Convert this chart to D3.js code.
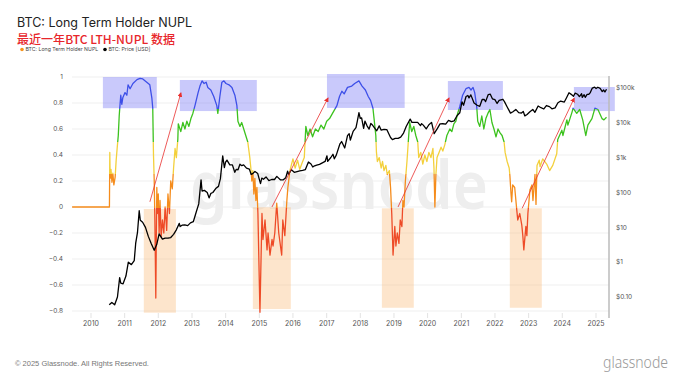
<!DOCTYPE html>
<html>
<head>
<meta charset="utf-8">
<script src="https://cdn.jsdelivr.net/npm/d3@7"></script>
<style>
  html, body { margin: 0; padding: 0; background: #fff; }
  svg { display: block; font-family: Inter, "Noto Sans", sans-serif; }
</style>
</head>
<body>
<div id="chart"></div>
<script>
// LTH-NUPL
const nuplSeries = [
  ["2009-06-10", 0], ["2010-07-20", 0], ["2010-07-24", 0.42], ["2010-07-28", 0.22], ["2010-08-06", 0.29],
  ["2010-08-16", 0.19], ["2010-08-26", 0.26], ["2010-09-06", 0.17], ["2010-09-20", 0.23], ["2010-10-01", 0.36],
  ["2010-10-14", 0.47], ["2010-10-24", 0.55], ["2010-11-03", 0.7], ["2010-11-10", 0.77], ["2010-11-20", 0.86],
  ["2010-12-01", 0.79], ["2010-12-12", 0.84], ["2011-01-05", 0.88], ["2011-01-25", 0.86], ["2011-02-07", 0.94],
  ["2011-03-01", 0.91], ["2011-04-01", 0.95], ["2011-05-15", 0.98], ["2011-06-17", 0.99], ["2011-07-17", 0.985],
  ["2011-08-29", 0.96], ["2011-10-01", 0.94], ["2011-10-23", 0.84], ["2011-11-02", 0.76], ["2011-11-10", 0.4],
  ["2011-11-18", 0.2], ["2011-11-25", -0.1], ["2011-12-05", -0.7], ["2011-12-10", -0.3], ["2011-12-16", 0.15],
  ["2011-12-22", -0.05], ["2012-01-01", 0.1], ["2012-01-10", -0.2], ["2012-01-20", 0.05], ["2012-02-01", -0.23],
  ["2012-02-15", -0.1], ["2012-03-01", -0.2], ["2012-03-15", 0.0], ["2012-04-01", -0.18], ["2012-04-15", 0.1],
  ["2012-05-01", -0.05], ["2012-05-15", 0.2], ["2012-06-01", 0.14], ["2012-06-15", 0.3], ["2012-07-01", 0.45],
  ["2012-07-15", 0.38], ["2012-07-31", 0.52], ["2012-08-05", 0.64], ["2012-09-01", 0.58], ["2012-09-24", 0.65],
  ["2012-10-16", 0.6], ["2012-11-06", 0.66], ["2012-11-28", 0.62], ["2012-12-20", 0.68], ["2013-01-10", 0.72],
  ["2013-02-02", 0.78], ["2013-03-08", 0.88], ["2013-03-28", 0.93], ["2013-04-20", 0.97], ["2013-05-12", 0.95],
  ["2013-06-03", 0.96], ["2013-06-21", 0.92], ["2013-07-24", 0.9], ["2013-08-25", 0.85], ["2013-09-27", 0.78],
  ["2013-10-08", 0.72], ["2013-10-30", 0.85], ["2013-11-21", 0.96], ["2013-12-13", 0.97], ["2014-01-04", 0.95],
  ["2014-02-06", 0.94], ["2014-03-10", 0.92], ["2014-04-11", 0.86], ["2014-05-03", 0.78], ["2014-05-14", 0.66],
  ["2014-06-05", 0.62], ["2014-06-24", 0.65], ["2014-07-16", 0.6], ["2014-08-07", 0.55], ["2014-08-29", 0.5],
  ["2014-09-20", 0.38], ["2014-10-01", 0.3], ["2014-10-12", 0.2], ["2014-10-23", 0.28], ["2014-11-03", 0.1],
  ["2014-11-14", 0.22], ["2014-11-25", 0.05], ["2014-12-06", 0.15], ["2014-12-17", -0.05], ["2015-01-08", -0.81],
  ["2015-01-30", -0.05], ["2015-02-10", -0.25], ["2015-03-04", -0.1], ["2015-03-26", -0.33], ["2015-04-06", -0.2],
  ["2015-04-27", -0.37], ["2015-05-19", -0.25], ["2015-05-30", -0.3], ["2015-06-18", -0.2], ["2015-07-09", 0.03],
  ["2015-07-31", -0.2], ["2015-09-01", -0.37], ["2015-09-13", -0.1], ["2015-10-05", -0.22], ["2015-10-27", 0.05],
  ["2015-11-07", 0.15], ["2015-11-29", 0.28], ["2016-01-01", 0.37], ["2016-01-25", 0.3], ["2016-02-20", 0.36],
  ["2016-03-15", 0.29], ["2016-04-10", 0.34], ["2016-05-03", 0.38], ["2016-05-20", 0.62], ["2016-06-10", 0.55],
  ["2016-07-05", 0.6], ["2016-08-01", 0.54], ["2016-09-01", 0.6], ["2016-10-01", 0.58], ["2016-11-01", 0.63],
  ["2016-12-01", 0.6], ["2017-01-01", 0.66], ["2017-02-01", 0.68], ["2017-03-05", 0.72], ["2017-04-22", 0.78],
  ["2017-05-20", 0.85], ["2017-06-15", 0.89], ["2017-07-10", 0.87], ["2017-08-15", 0.92], ["2017-09-30", 0.93],
  ["2017-11-01", 0.95], ["2017-12-17", 0.97], ["2018-01-20", 0.93], ["2018-02-25", 0.9], ["2018-03-28", 0.85],
  ["2018-04-22", 0.82], ["2018-05-18", 0.76], ["2018-05-30", 0.68], ["2018-06-18", 0.55], ["2018-06-25", 0.42],
  ["2018-07-05", 0.35], ["2018-07-25", 0.38], ["2018-08-15", 0.3], ["2018-08-30", 0.35], ["2018-09-15", 0.28],
  ["2018-10-05", 0.32], ["2018-10-20", 0.25], ["2018-11-12", 0.28], ["2018-11-25", 0.15], ["2018-12-08", -0.05],
  ["2018-12-22", -0.37], ["2019-01-10", -0.15], ["2019-01-22", -0.3], ["2019-02-06", -0.2], ["2019-02-24", -0.28],
  ["2019-03-10", -0.1], ["2019-03-28", -0.15], ["2019-04-08", 0.05], ["2019-04-20", 0.0], ["2019-05-05", 0.2],
  ["2019-05-22", 0.35], ["2019-06-10", 0.55], ["2019-06-21", 0.65], ["2019-07-13", 0.58], ["2019-08-04", 0.62],
  ["2019-08-26", 0.55], ["2019-09-16", 0.5], ["2019-09-27", 0.38], ["2019-10-19", 0.42], ["2019-11-10", 0.33],
  ["2019-12-02", 0.4], ["2019-12-24", 0.35], ["2020-01-15", 0.42], ["2020-02-06", 0.38], ["2020-02-28", 0.45],
  ["2020-03-10", 0.3], ["2020-03-20", 0.0], ["2020-03-31", 0.25], ["2020-04-12", 0.38], ["2020-05-04", 0.42],
  ["2020-05-26", 0.46], ["2020-06-14", 0.43], ["2020-07-06", 0.48], ["2020-07-28", 0.55], ["2020-08-29", 0.6],
  ["2020-09-20", 0.58], ["2020-10-12", 0.64], ["2020-11-03", 0.66], ["2020-11-22", 0.72], ["2020-12-14", 0.77],
  ["2021-01-15", 0.86], ["2021-02-20", 0.91], ["2021-03-25", 0.92], ["2021-04-16", 0.9], ["2021-05-08", 0.92],
  ["2021-05-26", 0.88], ["2021-06-17", 0.77], ["2021-06-28", 0.66], ["2021-07-20", 0.62], ["2021-08-11", 0.7],
  ["2021-09-02", 0.6], ["2021-09-24", 0.68], ["2021-10-16", 0.72], ["2021-11-07", 0.75], ["2021-11-29", 0.65],
  ["2021-12-21", 0.6], ["2022-01-12", 0.54], ["2022-02-03", 0.6], ["2022-02-25", 0.57], ["2022-03-19", 0.55],
  ["2022-04-10", 0.5], ["2022-04-21", 0.42], ["2022-05-13", 0.35], ["2022-06-04", 0.3], ["2022-06-12", 0.24],
  ["2022-06-24", 0.1], ["2022-07-01", 0.04], ["2022-07-12", 0.17], ["2022-08-03", 0.15], ["2022-08-25", -0.02],
  ["2022-09-05", -0.1], ["2022-09-27", -0.05], ["2022-10-19", -0.14], ["2022-10-30", -0.22], ["2022-11-10", -0.33],
  ["2022-12-02", -0.15], ["2022-12-13", -0.22], ["2022-12-24", -0.05], ["2023-01-15", 0.13], ["2023-02-06", 0.17],
  ["2023-02-17", 0.05], ["2023-03-11", 0.25], ["2023-03-22", 0.02], ["2023-04-02", 0.32], ["2023-04-26", 0.36],
  ["2023-05-05", 0.31], ["2023-06-03", 0.37], ["2023-07-16", 0.33], ["2023-08-17", 0.28], ["2023-09-20", 0.32],
  ["2023-11-02", 0.41], ["2023-11-13", 0.52], ["2023-12-28", 0.59], ["2024-01-08", 0.55], ["2024-02-20", 0.67],
  ["2024-03-02", 0.63], ["2024-04-16", 0.73], ["2024-04-27", 0.76], ["2024-06-06", 0.72], ["2024-07-08", 0.75],
  ["2024-08-10", 0.67], ["2024-09-12", 0.55], ["2024-10-05", 0.63], ["2024-11-18", 0.68], ["2024-12-20", 0.76],
  ["2025-01-22", 0.75], ["2025-03-07", 0.68], ["2025-03-28", 0.67], ["2025-04-25", 0.69]
];

// BTC price in USD
const priceSeries = [
  ["2010-07-18", 0.06], ["2010-08-15", 0.07], ["2010-09-15", 0.06], ["2010-10-15", 0.1], ["2010-11-08", 0.36],
  ["2010-11-20", 0.25], ["2010-12-15", 0.24], ["2011-01-15", 0.4], ["2011-02-10", 1.0], ["2011-03-15", 0.85],
  ["2011-04-15", 1.1], ["2011-05-01", 3.5], ["2011-05-20", 7], ["2011-06-08", 30], ["2011-06-20", 16],
  ["2011-07-15", 14], ["2011-08-15", 10], ["2011-09-15", 5.5], ["2011-10-15", 3.5], ["2011-11-18", 2.2],
  ["2011-12-15", 3.2], ["2012-01-10", 6.5], ["2012-02-15", 4.6], ["2012-03-15", 4.9], ["2012-04-15", 4.9],
  ["2012-05-15", 5.1], ["2012-06-15", 6.3], ["2012-07-15", 8.5], ["2012-08-16", 13], ["2012-08-25", 10.5],
  ["2012-09-15", 11.5], ["2012-10-15", 11.8], ["2012-11-15", 11.2], ["2012-12-15", 13.4], ["2013-01-15", 14.5],
  ["2013-02-15", 27], ["2013-03-15", 47], ["2013-04-09", 230], ["2013-04-20", 110], ["2013-05-15", 115],
  ["2013-06-15", 100], ["2013-07-05", 70], ["2013-07-25", 95], ["2013-08-15", 100], ["2013-09-15", 130],
  ["2013-10-15", 150], ["2013-11-05", 250], ["2013-11-30", 1130], ["2013-12-18", 520], ["2013-12-31", 750],
  ["2014-01-15", 850], ["2014-02-15", 620], ["2014-03-15", 620], ["2014-04-10", 380], ["2014-04-25", 460],
  ["2014-05-15", 450], ["2014-06-05", 650], ["2014-06-25", 590], ["2014-07-15", 620], ["2014-08-15", 500],
  ["2014-09-15", 470], ["2014-10-05", 330], ["2014-10-25", 355], ["2014-11-15", 400], ["2014-12-15", 350],
  ["2015-01-14", 180], ["2015-01-28", 260], ["2015-02-15", 240], ["2015-03-15", 280], ["2015-04-15", 220],
  ["2015-05-15", 236], ["2015-06-15", 236], ["2015-07-10", 290], ["2015-08-20", 230], ["2015-09-15", 230],
  ["2015-10-15", 265], ["2015-11-04", 410], ["2015-11-15", 330], ["2015-12-15", 450], ["2016-01-15", 380],
  ["2016-02-15", 400], ["2016-03-15", 415], ["2016-04-15", 430], ["2016-05-15", 455], ["2016-06-17", 750],
  ["2016-07-15", 660], ["2016-08-03", 540], ["2016-08-15", 570], ["2016-09-15", 608], ["2016-10-15", 640],
  ["2016-11-15", 710], ["2016-12-15", 780], ["2017-01-04", 1130], ["2017-01-12", 780], ["2017-02-15", 1010],
  ["2017-03-10", 1250], ["2017-03-25", 930], ["2017-04-15", 1180], ["2017-05-25", 2500], ["2017-06-12", 2900],
  ["2017-07-16", 1900], ["2017-08-15", 4300], ["2017-09-02", 4900], ["2017-09-15", 3200], ["2017-10-15", 5700],
  ["2017-11-15", 7300], ["2017-11-29", 11000], ["2017-12-17", 19500], ["2017-12-31", 13500], ["2018-01-15", 13800],
  ["2018-02-06", 6900], ["2018-02-20", 11200], ["2018-03-15", 8200], ["2018-04-06", 6600], ["2018-04-25", 9600],
  ["2018-05-15", 8500], ["2018-06-28", 5900], ["2018-07-25", 8200], ["2018-08-14", 6200], ["2018-09-15", 6500],
  ["2018-10-15", 6400], ["2018-11-25", 3800], ["2018-12-15", 3300], ["2019-01-15", 3600], ["2019-02-15", 3600],
  ["2019-03-15", 3900], ["2019-04-15", 5100], ["2019-05-15", 8000], ["2019-06-26", 12800], ["2019-07-15", 10300],
  ["2019-08-15", 10300], ["2019-09-15", 10300], ["2019-10-15", 8300], ["2019-10-28", 9500], ["2019-11-15", 8600],
  ["2019-12-17", 6700], ["2020-01-15", 8800], ["2020-02-13", 10300], ["2020-03-12", 4900], ["2020-04-15", 6800],
  ["2020-05-15", 9300], ["2020-06-15", 9400], ["2020-07-15", 9200], ["2020-08-15", 11800], ["2020-09-15", 10800],
  ["2020-10-15", 11400], ["2020-11-15", 16000], ["2020-12-15", 19400], ["2021-01-08", 40000], ["2021-01-25", 32000],
  ["2021-02-21", 57000], ["2021-03-13", 61000], ["2021-03-25", 52000], ["2021-04-14", 63500], ["2021-05-19", 37000],
  ["2021-06-22", 32000], ["2021-07-20", 29800], ["2021-08-15", 47000], ["2021-09-07", 46800], ["2021-09-21", 40600],
  ["2021-10-20", 65000], ["2021-11-10", 67000], ["2021-12-04", 49000], ["2021-12-31", 46300], ["2022-01-24", 36000],
  ["2022-02-15", 44000], ["2022-03-28", 47500], ["2022-04-15", 40000], ["2022-05-12", 29000], ["2022-06-18", 19000],
  ["2022-07-15", 20800], ["2022-08-15", 24300], ["2022-09-15", 19700], ["2022-10-15", 19100], ["2022-11-04", 21200],
  ["2022-11-21", 15800], ["2022-12-15", 17400], ["2023-01-15", 20900], ["2023-02-15", 24300], ["2023-03-10", 20000],
  ["2023-04-14", 30500], ["2023-05-15", 27200], ["2023-06-15", 25000], ["2023-07-13", 31400], ["2023-08-15", 29200],
  ["2023-09-11", 25200], ["2023-10-15", 27000], ["2023-11-15", 37800], ["2023-12-15", 42200], ["2024-01-23", 39500],
  ["2024-02-15", 51900], ["2024-03-14", 73000], ["2024-04-15", 63400], ["2024-05-01", 58000], ["2024-05-20", 71400],
  ["2024-06-15", 66200], ["2024-07-05", 56700], ["2024-07-29", 68300], ["2024-08-05", 54000], ["2024-08-25", 64000],
  ["2024-09-06", 53900], ["2024-09-27", 65800], ["2024-10-15", 66000], ["2024-10-29", 72300], ["2024-11-12", 88000],
  ["2024-11-22", 98900], ["2024-12-17", 106000], ["2025-01-02", 96900], ["2025-01-21", 105000], ["2025-02-15", 97500],
  ["2025-03-10", 79000], ["2025-03-25", 87500], ["2025-04-08", 77000], ["2025-04-25", 92000]
];

const nuplTicks = [-0.8, -0.6, -0.4, -0.2, 0, 0.2, 0.4, 0.6, 0.8, 1];
const priceTicks = [0.1, 1, 10, 100, 1000, 10000, 100000];
const priceTickLabels = ["$0.10", "$1", "$10", "$100", "$1k", "$10k", "$100k"];
const yearTicks = [2010, 2011, 2012, 2013, 2014, 2015, 2016, 2017, 2018, 2019, 2020, 2021, 2022, 2023, 2024, 2025];

// highlighted zones: [start, end, nupl low, nupl high]
const euphoriaZones = [
  ["2010-05-10", "2011-12-16", 0.76, 1.0],
  ["2012-08-22", "2014-12-05", 0.738, 0.977],
  ["2017-01-04", "2019-04-27", 0.762, 1.023],
  ["2020-08-08", "2022-03-28", 0.746, 0.969],
  ["2024-05-06", "2025-07-24", 0.738, 0.923]
];
const capitulationZones = [
  ["2011-07-28", "2012-07-10", -0.813, -0.015],
  ["2014-10-23", "2015-12-09", -0.785, -0.002],
  ["2018-08-23", "2019-08-04", -0.775, -0.01],
  ["2022-06-11", "2023-05-24", -0.775, -0.01]
];
// arrows: [start date, start nupl, end date, end nupl]
const cycleArrows = [
  ["2011-10-02", 0.04, "2012-09-02", 0.877],
  ["2015-05-18", 0.0, "2017-01-15", 0.838],
  ["2019-02-14", 0.0, "2020-08-20", 0.838],
  ["2022-10-23", -0.01, "2024-05-09", 0.836]
];

const parseDate = d3.utcParse("%Y-%m-%d");
const width = 680, height = 383;

const svg = d3.select("#chart").append("svg")
  .attr("width", width)
  .attr("height", height);

svg.append("rect").attr("width", width).attr("height", height).attr("fill", "#fff");

const plotLeft = 72, plotRight = 609;

const x = d3.scaleUtc()
  .domain([new Date(Date.UTC(2010, 0, 1)), new Date(Date.UTC(2025, 0, 1))])
  .range([91, 596]);
const y = d3.scaleLinear().domain([-0.8, 1]).range([311, 77]);
const yPrice = d3.scaleLog().domain([0.1, 100000]).range([297, 88]);

// Gridlines
svg.append("g")
  .selectAll("line")
  .data(nuplTicks)
  .join("line")
  .attr("x1", plotLeft).attr("x2", plotRight)
  .attr("y1", d => y(d)).attr("y2", d => y(d))
  .attr("stroke", "#efefef")
  .attr("stroke-width", 1);

// Watermark
svg.append("text")
  .attr("x", 190).attr("y", 209)
  .attr("font-family", "'Noto Sans', sans-serif")
  .attr("font-size", 66)
  .attr("font-weight", 600)
  .attr("fill", "#eeeeee")
  .attr("textLength", 298)
  .attr("lengthAdjust", "spacingAndGlyphs")
  .text("glassnode");

// Zones
svg.append("g")
  .selectAll("rect")
  .data(euphoriaZones)
  .join("rect")
  .attr("x", d => x(parseDate(d[0])))
  .attr("width", d => x(parseDate(d[1])) - x(parseDate(d[0])))
  .attr("y", d => y(d[3]))
  .attr("height", d => y(d[2]) - y(d[3]))
  .attr("fill", "rgba(120,120,245,0.4)");

svg.append("g")
  .selectAll("rect")
  .data(capitulationZones)
  .join("rect")
  .attr("x", d => x(parseDate(d[0])))
  .attr("width", d => x(parseDate(d[1])) - x(parseDate(d[0])))
  .attr("y", d => y(d[3]))
  .attr("height", d => y(d[2]) - y(d[3]))
  .attr("fill", "rgba(250,180,110,0.35)");

// NUPL line coloured by value band
const bands = [
  { hi: 1.2, lo: 0.75, color: "#3d4fe8" },
  { hi: 0.75, lo: 0.5, color: "#3cc21e" },
  { hi: 0.5, lo: 0.25, color: "#f3d03c" },
  { hi: 0.25, lo: -0.01, color: "#f58c1c" },
  { hi: -0.01, lo: -1.0, color: "#ee4b27" }
];
const gy1 = y(1.2), gy2 = y(-1.0);
const grad = svg.append("defs").append("linearGradient")
  .attr("id", "nuplGrad")
  .attr("gradientUnits", "userSpaceOnUse")
  .attr("x1", 0).attr("x2", 0)
  .attr("y1", gy1).attr("y2", gy2);
bands.forEach(b => {
  grad.append("stop").attr("offset", (y(b.hi) - gy1) / (gy2 - gy1)).attr("stop-color", b.color);
  grad.append("stop").attr("offset", (y(b.lo) - gy1) / (gy2 - gy1)).attr("stop-color", b.color);
});

const nuplLine = d3.line()
  .x(d => x(parseDate(d[0])))
  .y(d => y(d[1]));

svg.append("path")
  .datum(nuplSeries)
  .attr("d", nuplLine)
  .attr("fill", "none")
  .attr("stroke", "url(#nuplGrad)")
  .attr("stroke-width", 1.3)
  .attr("stroke-linejoin", "round");

// Price line
const priceLine = d3.line()
  .x(d => x(parseDate(d[0])))
  .y(d => yPrice(d[1]));

svg.append("path")
  .datum(priceSeries)
  .attr("d", priceLine)
  .attr("fill", "none")
  .attr("stroke", "#000")
  .attr("stroke-width", 1.3)
  .attr("stroke-linejoin", "round");

// Arrows
svg.select("defs").append("marker")
  .attr("id", "arrowHead")
  .attr("viewBox", "0 0 10 10")
  .attr("refX", 8).attr("refY", 5)
  .attr("markerWidth", 5).attr("markerHeight", 5)
  .attr("markerUnits", "userSpaceOnUse")
  .attr("orient", "auto")
  .append("path")
  .attr("d", "M0,0 L10,5 L0,10 z")
  .attr("fill", "#e8302e");

svg.append("g")
  .selectAll("line")
  .data(cycleArrows)
  .join("line")
  .attr("x1", d => x(parseDate(d[0])))
  .attr("y1", d => y(d[1]))
  .attr("x2", d => x(parseDate(d[2])))
  .attr("y2", d => y(d[3]))
  .attr("stroke", "#e8302e")
  .attr("stroke-width", 0.8)
  .attr("marker-end", "url(#arrowHead)");

// Left axis labels
svg.append("g")
  .selectAll("text")
  .data(nuplTicks)
  .join("text")
  .attr("x", 63)
  .attr("y", d => y(d))
  .attr("dy", "0.35em")
  .attr("text-anchor", "end")
  .attr("font-size", 6.5)
  .attr("fill", "#555")
  .text(d => d3.format("")(d));

// Right axis
svg.append("line")
  .attr("x1", plotRight).attr("x2", plotRight)
  .attr("y1", 76).attr("y2", 318)
  .attr("stroke", "#bbb")
  .attr("stroke-width", 1.5);

svg.append("g")
  .selectAll("text")
  .data(priceTicks)
  .join("text")
  .attr("x", 616)
  .attr("y", d => yPrice(d))
  .attr("dy", "0.35em")
  .attr("font-size", 6.5)
  .attr("fill", "#555")
  .text((d, i) => priceTickLabels[i]);

// X axis ticks and labels
const yearG = svg.append("g");
yearG.selectAll("line")
  .data(yearTicks)
  .join("line")
  .attr("x1", d => x(new Date(Date.UTC(d, 0, 1))))
  .attr("x2", d => x(new Date(Date.UTC(d, 0, 1))))
  .attr("y1", 313).attr("y2", 318)
  .attr("stroke", "#e3e3e3");
yearG.selectAll("text")
  .data(yearTicks)
  .join("text")
  .attr("x", d => x(new Date(Date.UTC(d, 0, 1))))
  .attr("y", 326)
  .attr("text-anchor", "middle")
  .attr("font-size", 7)
  .attr("fill", "#555")
  .text(d => d);

// Title
svg.append("text")
  .attr("x", 17).attr("y", 27)
  .attr("font-size", 12.5)
  .attr("fill", "#222")
  .text("BTC: Long Term Holder NUPL");

svg.append("text")
  .attr("x", 17).attr("y", 44)
  .attr("font-family", "'Noto Sans CJK SC', sans-serif")
  .attr("font-size", 12)
  .attr("font-weight", 500)
  .attr("fill", "#e8262b")
  .attr("textLength", 158)
  .attr("lengthAdjust", "spacingAndGlyphs")
  .text("最近一年BTC LTH-NUPL 数据");

// Legend
const legendItems = [
  { label: "BTC: Long Term Holder NUPL", color: "#f7931a", x: 22 },
  { label: "BTC: Price [USD]", color: "#000", x: 105 }
];
const legend = svg.append("g").selectAll("g").data(legendItems).join("g");
legend.append("circle")
  .attr("cx", d => d.x).attr("cy", 49.5).attr("r", 1.8)
  .attr("fill", d => d.color);
legend.append("text")
  .attr("x", d => d.x + 3.5).attr("y", 49.5)
  .attr("dy", "0.35em")
  .attr("font-size", 5.2)
  .attr("fill", "#444")
  .text(d => d.label);

// Footer
svg.append("text")
  .attr("x", 15).attr("y", 366)
  .attr("font-family", "'Liberation Sans', Arial, sans-serif")
  .attr("font-size", 7.5)
  .attr("fill", "#777")
  .text("© 2025 Glassnode. All Rights Reserved.");

svg.append("text")
  .attr("x", 668).attr("y", 368)
  .attr("text-anchor", "end")
  .attr("font-family", "'Noto Sans', sans-serif")
  .attr("font-size", 16)
  .attr("font-weight", 300)
  .attr("fill", "#999")
  .attr("textLength", 65)
  .attr("lengthAdjust", "spacingAndGlyphs")
  .text("glassnode");
</script>
</body>
</html>
